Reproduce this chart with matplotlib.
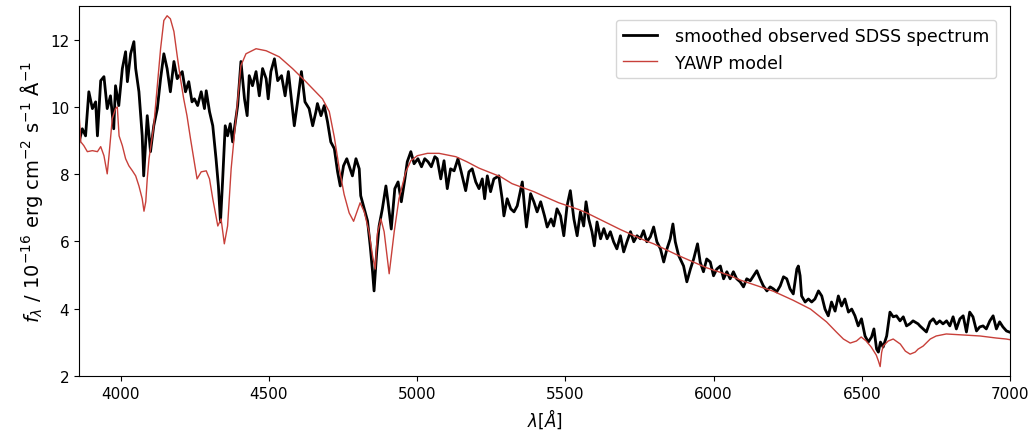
import matplotlib

matplotlib.use("Agg")
import matplotlib.pyplot as plt

# smoothed observed SDSS spectrum (wavelength in Angstrom, flux in 1e-16 erg/cm2/s/A)
obs_wave = [
    3860, 3871, 3882, 3893, 3905, 3916, 3922, 3933, 3944, 3955, 3966, 3977, 3983, 3994,
    4006, 4017, 4023, 4034, 4045, 4051, 4062, 4073, 4078, 4090, 4101, 4112, 4124, 4135,
    4146, 4157, 4168, 4180, 4191, 4208, 4219, 4230, 4241, 4249, 4260, 4272, 4283, 4289,
    4300, 4311, 4322, 4330, 4337, 4344, 4353, 4361, 4370, 4378, 4384, 4395, 4406, 4418,
    4427, 4434, 4445, 4457, 4468, 4479, 4491, 4498, 4507, 4519, 4530, 4543, 4555, 4566,
    4577, 4586, 4597, 4610, 4622, 4636, 4648, 4659, 4664, 4676, 4687, 4698, 4709, 4721,
    4732, 4741, 4752, 4763, 4774, 4782, 4794, 4805, 4810, 4822, 4833, 4842, 4850, 4855,
    4864, 4872, 4883, 4895, 4902, 4913, 4925, 4936, 4947, 4959, 4967, 4979, 4990, 5003,
    5015, 5026, 5037, 5048, 5060, 5068, 5080, 5091, 5102, 5113, 5125, 5138, 5149, 5164,
    5175, 5186, 5198, 5209, 5220, 5228, 5237, 5248, 5259, 5276, 5287, 5293, 5304, 5316,
    5327, 5338, 5355, 5363, 5369, 5383, 5394, 5405, 5417, 5430, 5439, 5452, 5461, 5472,
    5484, 5495, 5506, 5517, 5529, 5540, 5551, 5562, 5570, 5579, 5590, 5598, 5607, 5619,
    5630, 5641, 5652, 5663, 5674, 5686, 5697, 5708, 5720, 5731, 5742, 5753, 5764, 5775,
    5787, 5798, 5809, 5821, 5832, 5843, 5854, 5863, 5871, 5882, 5899, 5910, 5922, 5933,
    5946, 5955, 5966, 5977, 5989, 6000, 6011, 6023, 6034, 6045, 6056, 6067, 6078, 6090,
    6101, 6112, 6124, 6135, 6146, 6157, 6168, 6180, 6191, 6202, 6213, 6225, 6236, 6247,
    6258, 6269, 6281, 6286, 6292, 6297, 6309, 6320, 6331, 6342, 6354, 6365, 6376, 6387,
    6398, 6410, 6421, 6432, 6443, 6455, 6466, 6477, 6488, 6499, 6511, 6522, 6533, 6541,
    6550, 6556, 6563, 6572, 6584, 6595, 6606, 6617, 6629, 6640, 6651, 6662, 6673, 6690,
    6696, 6707, 6718, 6730, 6741, 6752, 6763, 6774, 6786, 6797, 6808, 6819, 6831, 6842,
    6853, 6864, 6875, 6887, 6898, 6909, 6920, 6932, 6943, 6954, 6965, 6976, 6988, 7000,
]
obs_flux = [
    8.96, 9.35, 9.14, 10.45, 9.95, 10.15, 9.14, 10.78, 10.90, 9.95, 10.33, 9.35, 10.63, 10.04,
    11.14, 11.64, 10.75, 11.58, 11.94, 11.14, 10.45, 9.14, 7.95, 9.74, 8.67, 9.44, 9.95, 10.84,
    11.58, 11.14, 10.45, 11.35, 10.84, 11.05, 10.45, 10.75, 10.15, 10.24, 10.04, 10.45, 9.95, 10.48,
    9.86, 9.44, 8.46, 7.65, 6.58, 7.77, 9.44, 9.14, 9.50, 8.96, 9.35, 10.04, 11.35, 10.24,
    9.74, 10.93, 10.63, 11.05, 10.33, 11.14, 10.84, 10.24, 11.05, 11.43, 10.78, 10.93, 10.33, 11.05,
    10.15, 9.44, 10.15, 11.05, 10.15, 9.95, 9.44, 9.86, 10.10, 9.74, 10.04, 9.56, 8.96, 8.76,
    8.07, 7.65, 8.25, 8.46, 8.16, 7.95, 8.46, 8.16, 7.36, 6.97, 6.61, 5.87, 5.10, 4.53,
    5.69, 6.46, 6.97, 7.65, 7.18, 6.37, 7.57, 7.77, 7.18, 7.86, 8.37, 8.67, 8.31, 8.46,
    8.22, 8.46, 8.37, 8.22, 8.52, 8.46, 7.86, 8.40, 7.57, 8.16, 8.10, 8.46, 8.07, 7.51,
    8.07, 8.16, 7.77, 7.57, 7.86, 7.27, 7.95, 7.48, 7.86, 7.95, 7.27, 6.76, 7.27, 6.97,
    6.88, 7.06, 7.77, 6.97, 6.43, 7.42, 7.18, 6.88, 7.18, 6.76, 6.43, 6.67, 6.46, 6.97,
    6.76, 6.17, 7.06, 7.51, 6.67, 6.17, 6.88, 6.46, 7.18, 6.67, 6.29, 5.87, 6.58, 6.08,
    6.38, 6.08, 6.29, 5.99, 5.78, 6.17, 5.69, 5.99, 6.29, 5.99, 6.17, 6.08, 6.32, 5.99,
    6.14, 6.43, 5.99, 5.78, 5.39, 5.78, 6.08, 6.52, 5.99, 5.59, 5.27, 4.80, 5.18, 5.48,
    5.93, 5.39, 5.10, 5.48, 5.39, 4.98, 5.18, 5.27, 4.89, 5.10, 4.89, 5.10, 4.89, 4.80,
    4.65, 4.89, 4.83, 4.98, 5.13, 4.89, 4.68, 4.53, 4.65, 4.59, 4.50, 4.68, 4.95, 4.89,
    4.59, 4.44, 5.18, 5.27, 4.98, 4.38, 4.20, 4.29, 4.20, 4.29, 4.53, 4.38, 3.99, 3.79,
    4.20, 3.93, 4.38, 4.08, 4.29, 3.90, 3.99, 3.79, 3.49, 3.70, 3.19, 3.01, 3.16, 3.40,
    2.80, 2.71, 3.01, 2.86, 3.19, 3.90, 3.76, 3.79, 3.64, 3.76, 3.49, 3.55, 3.64, 3.55,
    3.49, 3.40, 3.31, 3.61, 3.70, 3.55, 3.64, 3.55, 3.64, 3.49, 3.76, 3.40, 3.70, 3.79,
    3.31, 3.90, 3.76, 3.34, 3.46, 3.49, 3.40, 3.64, 3.79, 3.40, 3.61, 3.46, 3.34, 3.30,
]

# YAWP model spectrum
model_wave = [
    3860, 3866, 3876, 3888, 3905, 3922, 3933, 3944, 3955, 3961, 3972, 3983, 3989, 3995,
    4006, 4017, 4028, 4040, 4051, 4062, 4073, 4079, 4085, 4090, 4096, 4101, 4112, 4124,
    4135, 4146, 4157, 4168, 4180, 4191, 4202, 4213, 4224, 4236, 4247, 4258, 4272, 4289,
    4300, 4311, 4328, 4339, 4350, 4361, 4373, 4390, 4406, 4423, 4457, 4491, 4535, 4580,
    4625, 4681, 4704, 4721, 4737, 4754, 4771, 4786, 4800, 4808, 4822, 4838, 4850, 4859,
    4866, 4878, 4889, 4906, 4923, 4939, 4962, 4979, 5001, 5035, 5074, 5131, 5168, 5209,
    5283, 5320, 5394, 5434, 5478, 5545, 5572, 5657, 5687, 5771, 5798, 5882, 5976, 6051,
    6091, 6202, 6269, 6327, 6381, 6414, 6438, 6461, 6482, 6498, 6515, 6532, 6549, 6556,
    6562, 6567, 6572, 6589, 6606, 6630, 6647, 6663, 6680, 6690, 6707, 6731, 6751, 6785,
    6842, 6899, 6953, 6987, 7000,
]
model_flux = [
    9.80, 8.96, 8.85, 8.67, 8.70, 8.67, 8.82, 8.55, 8.01, 8.55, 9.65, 9.95, 10.00, 9.14,
    8.85, 8.46, 8.25, 8.10, 7.95, 7.65, 7.27, 6.90, 7.18, 7.86, 8.46, 8.76, 9.44, 10.63,
    11.73, 12.57, 12.71, 12.62, 12.24, 11.52, 10.84, 10.24, 9.74, 9.05, 8.46, 7.86, 8.07, 8.10,
    7.86, 7.27, 6.46, 6.67, 5.93, 6.46, 8.16, 9.74, 11.23, 11.58, 11.73, 11.67, 11.49, 11.14,
    10.75, 10.24, 9.86, 9.10, 8.20, 7.40, 6.85, 6.60, 6.95, 7.15, 6.88, 6.29, 5.57, 5.18,
    6.23, 6.67, 6.29, 5.04, 6.29, 7.27, 8.07, 8.40, 8.55, 8.62, 8.62, 8.52, 8.37, 8.18,
    7.92, 7.72, 7.48, 7.32, 7.15, 6.95, 6.85, 6.48, 6.35, 6.02, 5.93, 5.58, 5.22, 5.00,
    4.85, 4.52, 4.25, 3.99, 3.61, 3.31, 3.10, 2.98, 3.04, 3.16, 3.04, 2.86, 2.62, 2.45,
    2.28, 2.70, 2.89, 3.04, 3.10, 2.95, 2.74, 2.65, 2.71, 2.80, 2.89, 3.10, 3.19, 3.25,
    3.22, 3.19, 3.13, 3.10, 3.08,
]

x_ticks = [4000, 4500, 5000, 5500, 6000, 6500, 7000]
y_ticks = [2, 4, 6, 8, 10, 12]

fig = plt.figure(figsize=(10.32, 4.35), dpi=100)
ax = fig.add_axes([0.0766, 0.1333, 0.9021, 0.8506])

ax.plot(obs_wave, obs_flux, color="black", lw=2.0, label="smoothed observed SDSS spectrum")
ax.plot(model_wave, model_flux, color="#c8403a", lw=1.0, label="YAWP model")

ax.set_xlim(3860, 7000)
ax.set_ylim(2, 13)
ax.set_xticks(x_ticks)
ax.set_yticks(y_ticks)
ax.tick_params(labelsize=11)
ax.set_xlabel(r"$\lambda [\AA]$", fontsize=12)
ax.set_ylabel(r"$f_\lambda$ / $10^{-16}$ erg cm$^{-2}$ s$^{-1}$ Å$^{-1}$", fontsize=14)
ax.legend(loc="upper right", fontsize=12.5, borderaxespad=0.8, handletextpad=1.0)

fig.savefig("out.png", dpi=100)
